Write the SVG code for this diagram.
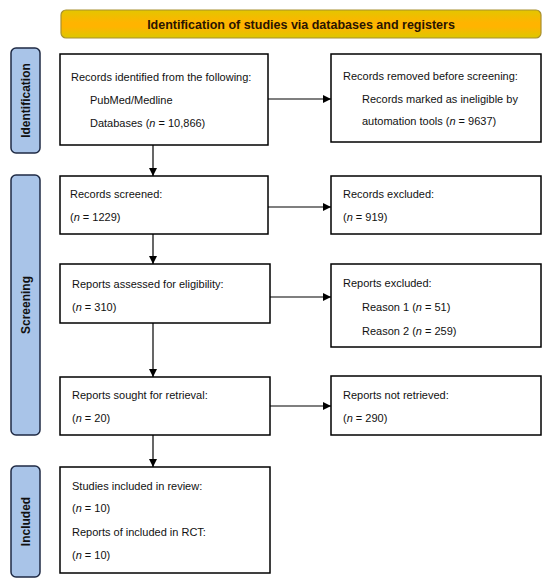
<svg xmlns="http://www.w3.org/2000/svg" width="550" height="588" viewBox="0 0 550 588">
<defs>
<linearGradient id="gold" x1="0" y1="0" x2="0" y2="1">
<stop offset="0" stop-color="#E3C600"/>
<stop offset="0.45" stop-color="#FFB400"/>
<stop offset="0.6" stop-color="#FFB400"/>
<stop offset="1" stop-color="#DCC800"/>
</linearGradient>
<marker id="arr" viewBox="0 0 10 10" refX="10" refY="5" markerWidth="8" markerHeight="8" markerUnits="userSpaceOnUse" orient="auto">
<path d="M0,0 L10,5 L0,10 z" fill="#000"/>
</marker>
<style>
.box{fill:#fff;stroke:#000;stroke-width:1.5}
.side{fill:#A9C4E8;stroke:#1F2A44;stroke-width:1.5}
.t{font-family:"Liberation Sans",Arial,sans-serif;font-size:11px;fill:#111}
.sl{font-family:"Liberation Sans",Arial,sans-serif;font-size:12px;font-weight:bold;fill:#111}
.hd{font-family:"Liberation Sans",Arial,sans-serif;font-size:12.5px;font-weight:bold;fill:#2a1500}
.c{stroke:#000;stroke-width:1.2;fill:none;marker-end:url(#arr)}
</style>
</defs>
<rect width="550" height="588" fill="#fff"/>

<g id="header">
<rect x="61" y="10" width="480" height="28" rx="5" fill="url(#gold)" stroke="#A89030" stroke-width="1.2"/>
<text class="hd" x="301" y="28.5" text-anchor="middle">Identification of studies via databases and registers</text>
</g>

<g id="label-identification">
<rect class="side" x="11" y="48" width="29" height="105" rx="5"/>
<text class="sl" transform="translate(30,100.5) rotate(-90)" text-anchor="middle">Identification</text>
</g>
<g id="label-screening">
<rect class="side" x="11" y="175" width="29" height="260" rx="5"/>
<text class="sl" transform="translate(30,305) rotate(-90)" text-anchor="middle">Screening</text>
</g>
<g id="label-included">
<rect class="side" x="11" y="466" width="29" height="111" rx="5"/>
<text class="sl" transform="translate(30,521.5) rotate(-90)" text-anchor="middle">Included</text>
</g>

<g id="records-identified">
<rect class="box" x="60" y="54" width="208" height="91"/>
<text class="t" x="71" y="81">Records identified from the following:</text>
<text class="t" x="90" y="104">PubMed/Medline</text>
<text class="t" x="90" y="127">Databases (<tspan font-style="italic">n</tspan> = 10,866)</text>
</g>
<g id="records-removed">
<rect class="box" x="331" y="54" width="210" height="88"/>
<text class="t" x="343" y="80">Records removed before screening:</text>
<text class="t" x="362" y="103">Records marked as ineligible by</text>
<text class="t" x="362" y="125">automation tools (<tspan font-style="italic">n</tspan> = 9637)</text>
</g>
<g id="records-screened">
<rect class="box" x="60" y="176" width="208" height="58"/>
<text class="t" x="70" y="198">Records screened:</text>
<text class="t" x="70" y="221">(<tspan font-style="italic">n</tspan> = 1229)</text>
</g>
<g id="records-excluded">
<rect class="box" x="331" y="176" width="210" height="58"/>
<text class="t" x="343" y="198">Records excluded:</text>
<text class="t" x="343" y="221">(<tspan font-style="italic">n</tspan> = 919)</text>
</g>
<g id="reports-assessed">
<rect class="box" x="60" y="264" width="210" height="59"/>
<text class="t" x="72" y="288">Reports assessed for eligibility:</text>
<text class="t" x="72" y="311">(<tspan font-style="italic">n</tspan> = 310)</text>
</g>
<g id="reports-excluded">
<rect class="box" x="331" y="264" width="210" height="83"/>
<text class="t" x="343" y="287">Reports excluded:</text>
<text class="t" x="362" y="311">Reason 1 (<tspan font-style="italic">n</tspan> = 51)</text>
<text class="t" x="362" y="335">Reason 2 (<tspan font-style="italic">n</tspan> = 259)</text>
</g>
<g id="reports-sought">
<rect class="box" x="60" y="377" width="210" height="58"/>
<text class="t" x="72" y="399">Reports sought for retrieval:</text>
<text class="t" x="72" y="422">(<tspan font-style="italic">n</tspan> = 20)</text>
</g>
<g id="reports-not-retrieved">
<rect class="box" x="331" y="376" width="210" height="59"/>
<text class="t" x="343" y="399">Reports not retrieved:</text>
<text class="t" x="343" y="422">(<tspan font-style="italic">n</tspan> = 290)</text>
</g>
<g id="studies-included">
<rect class="box" x="60" y="467" width="210" height="106"/>
<text class="t" x="72" y="490">Studies included in review:</text>
<text class="t" x="72" y="512">(<tspan font-style="italic">n</tspan> = 10)</text>
<text class="t" x="72" y="536">Reports of included in RCT:</text>
<text class="t" x="72" y="559">(<tspan font-style="italic">n</tspan> = 10)</text>
</g>

<g id="connectors">
<line class="c" x1="268" y1="99" x2="331" y2="99"/>
<line class="c" x1="153" y1="145" x2="153" y2="176"/>
<line class="c" x1="268" y1="207" x2="331" y2="207"/>
<line class="c" x1="153" y1="234" x2="153" y2="264"/>
<line class="c" x1="270" y1="297" x2="331" y2="297"/>
<line class="c" x1="153" y1="323" x2="153" y2="377"/>
<line class="c" x1="270" y1="406" x2="331" y2="406"/>
<line class="c" x1="153" y1="435" x2="153" y2="467"/>
</g>
</svg>
